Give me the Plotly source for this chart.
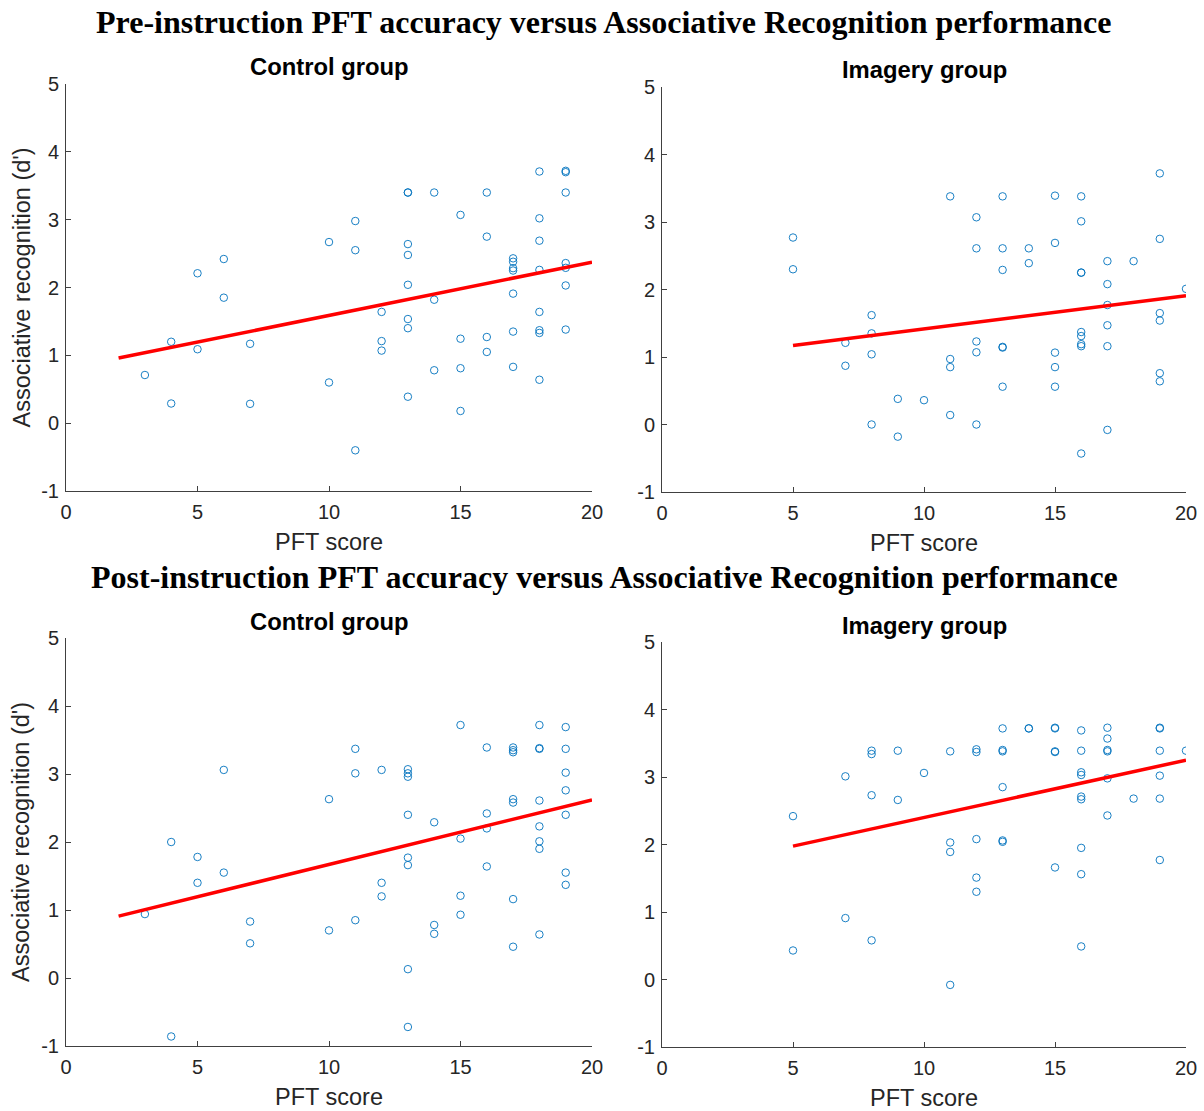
import numpy as np
import plotly.graph_objects as go

# ---------------- data ----------------
# Pre-instruction, Control group
pre_ctrl_x = [3, 4, 4, 5, 5, 6, 6, 7, 7, 10, 10,
              11, 11, 11, 12, 12, 12,
              13, 13, 13, 13, 13, 13, 13, 13,
              14, 14, 14, 15, 15, 15, 15, 16, 16, 16, 16,
              17, 17, 17, 17, 17, 17, 17,
              18, 18, 18, 18, 18, 18, 18, 18,
              19, 19, 19, 19, 19, 19, 19]
pre_ctrl_y = [0.71, 1.20, 0.29, 2.21, 1.09, 2.42, 1.85, 1.17, 0.285, 2.67, 0.60,
              2.98, 2.55, -0.40, 1.64, 1.21, 1.07,
              3.40, 3.40, 2.64, 2.48, 2.04, 1.535, 1.40, 0.39,
              3.40, 1.82, 0.78, 3.07, 1.245, 0.81, 0.18, 3.40, 2.75, 1.27, 1.05,
              2.43, 2.38, 2.285, 2.25, 1.91, 1.35, 0.83,
              3.71, 3.02, 2.69, 2.26, 1.64, 1.37, 1.33, 0.64,
              3.72, 3.70, 3.40, 2.36, 2.29, 2.03, 1.38]

# Pre-instruction, Imagery group
pre_img_x = [5, 5, 7, 7, 8, 8, 8, 8, 9, 9, 10,
             11, 11, 11, 11, 12, 12, 12, 12, 12,
             13, 13, 13, 13, 13, 13, 14, 14,
             15, 15, 15, 15, 15,
             16, 16, 16, 16, 16, 16, 16, 16, 16,
             17, 17, 17, 17, 17, 17, 18,
             19, 19, 19, 19, 19, 19, 20]
pre_img_y = [2.77, 2.30, 1.21, 0.87, 1.62, 1.35, 1.04, 0.00, 0.38, -0.18, 0.36,
             3.38, 0.97, 0.85, 0.14, 3.07, 2.61, 1.23, 1.07, 0.00,
             3.38, 2.61, 2.29, 1.15, 1.14, 0.56, 2.61, 2.39,
             3.39, 2.69, 1.065, 0.85, 0.56,
             3.38, 3.01, 2.25, 2.25, 1.37, 1.31, 1.19, 1.16, -0.43,
             2.42, 2.08, 1.77, 1.47, 1.16, -0.08, 2.42,
             3.72, 2.75, 1.65, 1.54, 0.76, 0.64, 2.01]

# Post-instruction, Control group
post_ctrl_x = pre_ctrl_x
post_ctrl_y = [0.94, 2.00, -0.86, 1.78, 1.40, 3.06, 1.55, 0.83, 0.51, 2.63, 0.70,
               3.37, 3.01, 0.85, 3.06, 1.40, 1.20,
               3.07, 3.01, 2.96, 2.40, 1.77, 1.66, 0.13, -0.72,
               2.29, 0.78, 0.65, 3.72, 2.05, 1.21, 0.93, 3.39, 2.42, 2.20, 1.64,
               3.39, 3.35, 3.32, 2.63, 2.58, 1.16, 0.46,
               3.72, 3.38, 3.37, 2.61, 2.23, 2.01, 1.90, 0.64,
               3.69, 3.37, 3.02, 2.76, 2.40, 1.55, 1.37]

# Post-instruction, Imagery group
post_img_x = pre_img_x
post_img_y = [2.42, 0.43, 3.01, 0.91, 3.39, 3.34, 2.73, 0.58, 3.39, 2.66, 3.06,
              3.38, 2.03, 1.89, -0.08, 3.41, 3.37, 2.08, 1.51, 1.30,
              3.72, 3.40, 3.38, 2.85, 2.06, 2.04, 3.72, 3.72,
              3.73, 3.72, 3.38, 3.37, 1.66,
              3.69, 3.39, 3.07, 3.03, 2.71, 2.67, 1.95, 1.56, 0.49,
              3.73, 3.57, 3.40, 3.38, 2.98, 2.43, 2.68,
              3.73, 3.72, 3.39, 3.02, 2.68, 1.77, 3.39]

# extent of least-squares lines (x)
ctrl_line_x = [2, 20]
img_line_x = [5, 20]

x_ticks = [0, 5, 10, 15, 20]
y_ticks = [-1, 0, 1, 2, 3, 4, 5]
y_tick_text = ["-1", "0", "1", "2", "3", "4", "5"]

sup_titles = ["Pre-instruction PFT accuracy versus Associative Recognition performance",
              "Post-instruction PFT accuracy versus Associative Recognition performance"]
panel_titles = ["Control group", "Imagery group", "Control group", "Imagery group"]
x_label = "PFT score"
y_label = "Associative recognition (d')"

# ---------------- figure ----------------
W, H = 1204, 1111
fig = go.Figure()

panels = [
    (pre_ctrl_x, pre_ctrl_y, ctrl_line_x, (66, 592), (84, 491)),
    (pre_img_x, pre_img_y, img_line_x, (662, 1186), (87, 492)),
    (post_ctrl_x, post_ctrl_y, ctrl_line_x, (66, 592), (638, 1046)),
    (post_img_x, post_img_y, img_line_x, (662, 1186), (642, 1047)),
]

SANS = "Liberation Sans, Arial, sans-serif"
SERIF = "Liberation Serif, Times New Roman, serif"
AX = "#262626"

for i, (px, py, lx, (x0, x1), (y0, y1)) in enumerate(panels):
    n = i + 1
    xa = "x" if n == 1 else f"x{n}"
    ya = "y" if n == 1 else f"y{n}"
    fig.add_trace(go.Scatter(
        x=px, y=py, mode="markers", xaxis=xa, yaxis=ya,
        marker=dict(symbol="circle-open", size=7.5, color="#0072BD",
                    line=dict(width=0.9, color="#0072BD")),
        showlegend=False, hoverinfo="x+y"))
    slope, intercept = np.polyfit(np.array(px, float), np.array(py, float), 1)
    lxa = np.array(lx, float)
    fig.add_trace(go.Scatter(
        x=lxa, y=slope * lxa + intercept, mode="lines", xaxis=xa, yaxis=ya,
        line=dict(color="#FF0000", width=3.5), showlegend=False))

    common = dict(showline=True, linecolor="#404040", linewidth=1, ticks="inside",
                  ticklen=5, tickwidth=1, tickcolor="#404040", showgrid=False,
                  zeroline=False, mirror=False, automargin=False,
                  tickfont=dict(family=SANS, size=20, color=AX))
    fig.layout[f"xaxis{'' if n == 1 else n}"] = dict(
        domain=[x0 / W, x1 / W], range=[0, 20], tickvals=x_ticks,
        anchor=ya, ticklabelstandoff=3, **common)
    fig.layout[f"yaxis{'' if n == 1 else n}"] = dict(
        domain=[1 - y1 / H, 1 - y0 / H], range=[-1, 5], tickvals=y_ticks,
        ticktext=y_tick_text, anchor=xa, ticklabelstandoff=2, **common)

    # panel title
    fig.add_annotation(text=f"<b>{panel_titles[i]}</b>", xref="paper", yref="paper",
                       x=((x0 + x1) / 2) / W, y=1 - (y0 - 17) / H,
                       xanchor="center", yanchor="middle", showarrow=False,
                       font=dict(family=SANS, size=23.8, color="#000000"))
    # x label
    fig.add_annotation(text=x_label, xref="paper", yref="paper",
                       x=((x0 + x1) / 2) / W, y=1 - (y1 + 51) / H,
                       xanchor="center", yanchor="middle", showarrow=False,
                       font=dict(family=SANS, size=23.5, color=AX))
    # y label (left panels only)
    if x0 < 300:
        fig.add_annotation(text=y_label, xref="paper", yref="paper",
                           x=21 / W, y=1 - ((y0 + y1) / 2) / H, textangle=-90,
                           xanchor="center", yanchor="middle", showarrow=False,
                           font=dict(family=SANS, size=23.5, color=AX))

for t, yc in zip(sup_titles, [22, 577]):
    fig.add_annotation(text=f"<b>{t}</b>", xref="paper", yref="paper",
                       x=604 / W, y=1 - yc / H, xanchor="center", yanchor="middle",
                       showarrow=False, font=dict(family=SERIF, size=32, color="#000000"))

fig.update_layout(width=W, height=H, margin=dict(l=0, r=0, t=0, b=0, autoexpand=False),
                  paper_bgcolor="white", plot_bgcolor="white", showlegend=False)

fig.write_html("out.html", config={"displayModeBar": False})
